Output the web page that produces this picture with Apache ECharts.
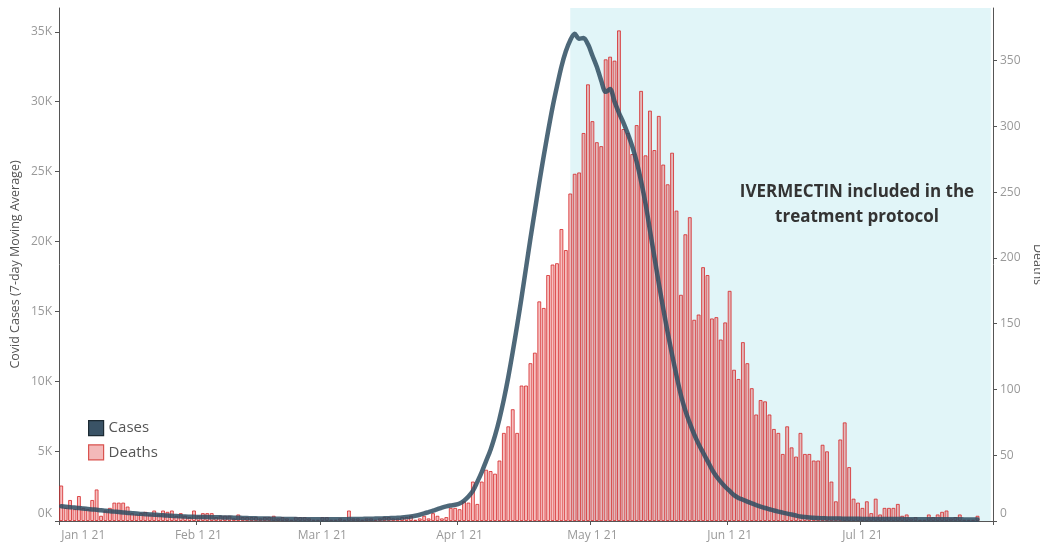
<!DOCTYPE html>
<html>
<head>
<meta charset="utf-8">
<script src="https://cdn.jsdelivr.net/npm/echarts@6/dist/echarts.min.js"></script>
<style>
  html, body { margin: 0; padding: 0; background: #fff; }
  #chart { width: 1040px; height: 544px; }
</style>
</head>
<body>
<div id="chart"></div>
<script>
// ---- Data ----
const startDate = [2021, 0, 1];           // first category: Jan 1 2021
const monthTickLabels = ['Jan 1 21', 'Feb 1 21', 'Mar 1 21', 'Apr 1 21', 'May 1 21', 'Jun 1 21', 'Jul 1 21'];
const shadeStart = '2021-04-26';
const shadeEnd = '2021-07-30';
const annotationText = 'IVERMECTIN included in the\ntreatment protocol';

// Daily deaths (right axis)
const deathsJan = [27,10,16,9,19,10,9,16,24,4, 8,10,14,14,14,11,6,5,6,7, 5,8,5,8,7,8,4,6,4,3, 8];
const deathsFeb = [4,6,6,6,3,4,4,4,2,5, 3,3,3,3,2,3,3,4,2,3, 2,1,3,3,3,2,1,1];
const deathsMar = [3,3,1,1,2,1,8,2,2,1, 2,2,1,2,3,3,2,2,3,3, 4,1,2,4,2,6,4,2,3,10, 10];
const deathsApr = [9,15,14,30,13,30,39,38,36,46, 67,72,85,67,103,103,120,128,167,162, 187,195,196,222,206,249,264,265,295,332];
const deathsMay = [304,288,285,351,353,350,373,298,295,279, 301,327,278,312,282,308,271,256,280,236, 172,218,231,153,157,193,187,154,155,138, 151];
const deathsJun = [175,115,108,136,120,101,81,92,91,81, 70,67,51,72,56,49,67,51,51,46, 46,58,53,30,15,62,75,41,17,14];
const deathsJul = [10,15,6,17,5,10,10,10,13,4, 5,2,3,1,1,5,3,5,7,8, 2,3,5,1,1,1,4,null,null,null];

// Covid cases, 7-day moving average (left axis)
const casesJan = [1050,1020,990,960,930,890,860,830,800,770, 730,700,670,640,610,580,560,540,510,490, 470,450,430,410,390,370,350,340,320,310, 300];
const casesFeb = [290,285,280,270,265,260,250,245,240,230, 220,210,200,190,180,175,170,160,155,150, 145,140,135,130,125,120,120,120];
const casesMar = [120,120,120,120,125,130,135,140,145,150, 155,160,170,180,190,200,215,230,250,280, 320,380,450,540,640,740,850,960,1050,1110, 1160];
const casesApr = [1250,1450,1750,2150,2800,3500,4300,5100,6100,7300, 8700,10300,12100,14000,16000,18100,20200,22200,24200,26100, 27900,29600,31100,32500,33600,34400,34850,34500,34550,34100];
const casesMay = [33300,32500,31500,30700,30900,30000,29200,28500,27700,26800, 25700,24300,22700,20800,18900,17000,15200,13500,11900,10400, 9000,7900,7000,6200,5500,4900,4300,3700,3200,2800, 2450];
const casesJun = [2150,1850,1650,1520,1390,1260,1140,1030,930,840, 750,670,600,530,460,390,320,280,250,230, 210,195,185,178,172,170,165,160,160,155];
const casesJul = [150,150,145,145,140,140,140,135,135,135, 130,130,130,130,125,125,125,125,120,120, 120,120,120,115,115,115,115,null,null,null];

// ---- Build ----
const deaths = [].concat(deathsJan, deathsFeb, deathsMar, deathsApr, deathsMay, deathsJun, deathsJul);
const cases = [].concat(casesJan, casesFeb, casesMar, casesApr, casesMay, casesJun, casesJul);
const categories = deaths.map((_, i) =>
  new Date(Date.UTC(startDate[0], startDate[1], startDate[2] + i)).toISOString().slice(0, 10));

const isMonthStart = (index, value) => String(value).slice(8, 10) === '01';
const FONT = 'Open Sans';
const zeroRich = { zero: { padding: [0, 0, 14, 0], color: '#999', fontSize: 12, fontFamily: FONT } };

const chart = echarts.init(document.getElementById('chart'), null, { renderer: 'canvas' });
chart.setOption({
  animation: false,
  textStyle: { fontFamily: FONT },
  grid: { left: 59, right: 47, top: 8, bottom: 23, containLabel: false, outerBoundsMode: 'none' },
  legend: {
    orient: 'vertical',
    left: 83,
    top: 415,
    itemWidth: 15,
    itemHeight: 15,
    itemGap: 8,
    selectedMode: false,
    textStyle: { color: '#555', fontSize: 15, fontFamily: FONT },
    data: [
      { name: 'Cases', icon: 'rect', itemStyle: { color: '#3a5366', borderColor: '#1c2a33', borderWidth: 1.2 } },
      { name: 'Deaths', icon: 'rect', itemStyle: { color: '#f3b9b9', borderColor: '#d9534f', borderWidth: 1.2 } }
    ]
  },
  xAxis: {
    type: 'category',
    data: categories,
    boundaryGap: true,
    axisLine: { show: true, lineStyle: { color: '#555', width: 1 } },
    axisTick: { show: true, interval: isMonthStart, alignWithLabel: false, length: 4, lineStyle: { color: '#555' } },
    axisLabel: {
      interval: isMonthStart,
      color: '#999',
      fontSize: 12,
      fontFamily: FONT,
      margin: 9,
      alignMinLabel: 'left',
      formatter: (v) => monthTickLabels[parseInt(v.slice(5, 7), 10) - 1]
    },
    splitLine: { show: false }
  },
  yAxis: [
    {
      type: 'value',
      min: 0,
      max: 36700,
      interval: 5000,
      position: 'left',
      name: 'Covid Cases (7-day Moving Average)',
      nameLocation: 'middle',
      nameGap: 37,
      nameMoveOverlap: false,
      nameTextStyle: { color: '#555', fontSize: 12.5, fontFamily: FONT },
      axisLine: { show: true, lineStyle: { color: '#555', width: 1 } },
      axisTick: { show: true, length: 4, lineStyle: { color: '#555' } },
      axisLabel: { color: '#999', fontSize: 12, fontFamily: FONT, margin: 7, showMaxLabel: false,
        rich: zeroRich,
        formatter: (v) => v === 0 ? '{zero|0K}' : (v / 1000) + 'K' },
      splitLine: { show: false }
    },
    {
      type: 'value',
      min: 0,
      max: 390,
      interval: 50,
      position: 'right',
      name: 'Deaths',
      nameLocation: 'middle',
      nameGap: 38,
      nameRotate: -90,
      nameMoveOverlap: false,
      nameTextStyle: { color: '#555', fontSize: 12.5, fontFamily: FONT },
      axisLine: { show: true, lineStyle: { color: '#555', width: 1 } },
      axisTick: { show: true, length: 4, lineStyle: { color: '#555' } },
      axisLabel: { color: '#999', fontSize: 12, fontFamily: FONT, margin: 7, showMaxLabel: false,
        rich: zeroRich,
        formatter: (v) => v === 0 ? '{zero|0}' : String(v) },
      splitLine: { show: false }
    }
  ],
  graphic: [
    {
      type: 'text',
      left: 737,
      top: 180,
      z: 10,
      style: {
        text: annotationText,
        fill: '#333',
        font: 'bold 17px "Open Sans"',
        textAlign: 'center',
        lineHeight: 25,
        width: 240
      }
    }
  ],
  series: [
    {
      name: 'shade',
      type: 'line',
      data: [],
      z: 0,
      silent: true,
      markArea: {
        silent: true,
        itemStyle: { color: '#e1f5f8' },
        data: [[{ xAxis: shadeStart }, { xAxis: shadeEnd }]]
      }
    },
    {
      name: 'Deaths',
      type: 'bar',
      yAxisIndex: 1,
      data: deaths,
      z: 2,
      barCategoryGap: '12%',
      itemStyle: {
        color: 'rgba(230, 80, 80, 0.36)',
        borderColor: 'rgba(214, 39, 40, 0.8)',
        borderWidth: 1
      }
    },
    {
      name: 'Cases',
      type: 'line',
      yAxisIndex: 0,
      data: cases,
      z: 3,
      smooth: 0.3,
      showSymbol: false,
      symbol: 'none',
      lineStyle: { color: '#2f4d61', width: 4.5, opacity: 0.85, cap: 'round', join: 'round' },
      itemStyle: { color: '#3a5366' }
    }
  ]
});
</script>
</body>
</html>
